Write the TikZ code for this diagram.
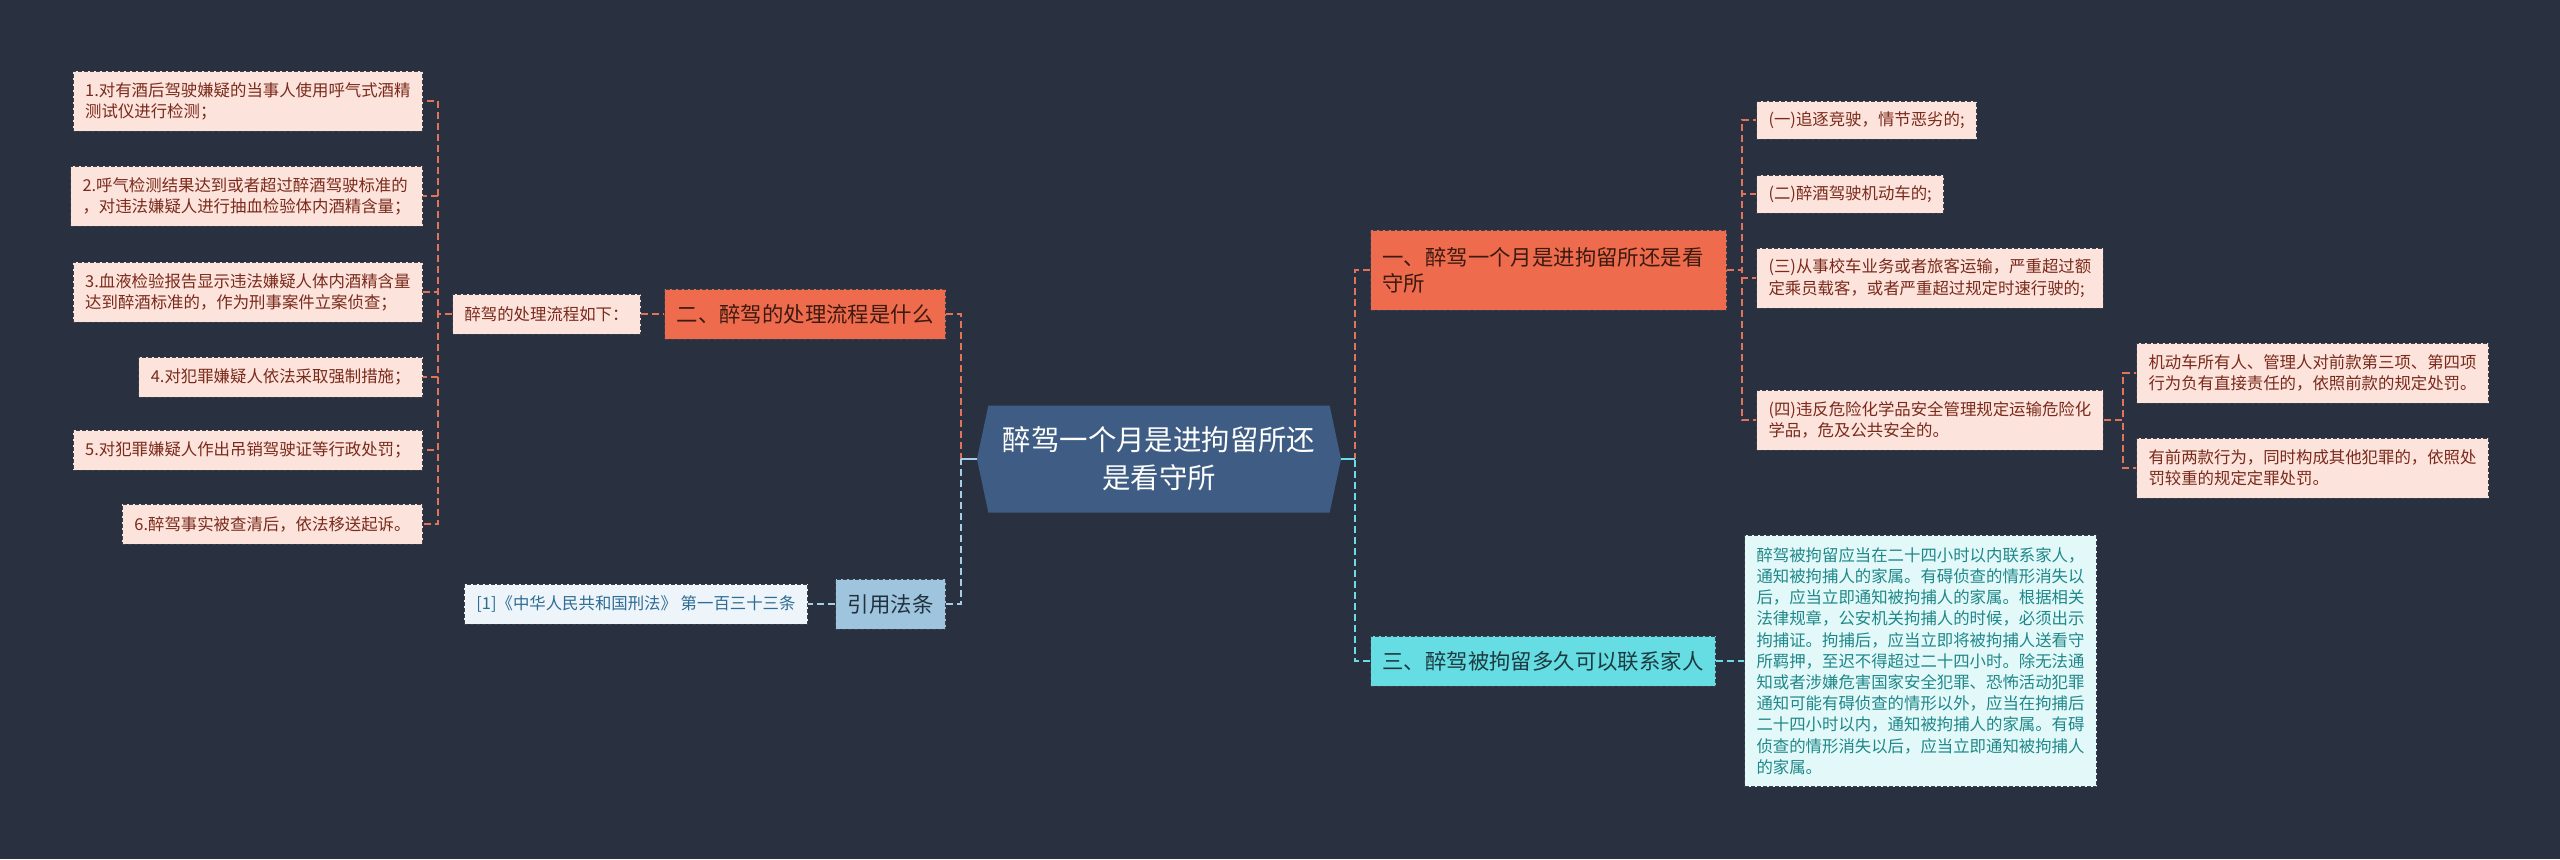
\documentclass[tikz,border=0pt]{standalone}
\usepackage{fontspec}
\setmainfont{Noto Sans CJK SC}
\usetikzlibrary{shapes.symbols}
\definecolor{bg}{HTML}{293141}
\definecolor{redc}{HTML}{E2735B}
\definecolor{leaffill}{HTML}{FCE3DB}
\definecolor{leaftext}{HTML}{7A2A1C}
\definecolor{orangefill}{HTML}{EE6C4D}
\definecolor{titletext}{HTML}{3D1A10}
\definecolor{centerfill}{HTML}{3F5D84}
\definecolor{reffill}{HTML}{9EC5DD}
\definecolor{reftext}{HTML}{22313F}
\definecolor{refitemfill}{HTML}{EDF5FA}
\definecolor{refitemtext}{HTML}{2F6C93}
\definecolor{bluec}{HTML}{A8CDE6}
\definecolor{cyanfill}{HTML}{66DCE3}
\definecolor{cyantext}{HTML}{1D3A40}
\definecolor{cyanc}{HTML}{6CDDE6}
\definecolor{bigfill}{HTML}{E3F9F9}
\definecolor{bigtext}{HTML}{1F8789}
\definecolor{bordc}{HTML}{3A3F4A}
\tikzset{
  conn/.style={line width=1pt, dash pattern=on 3.5pt off 2pt},
  stub/.style={line width=1pt},
  box/.style={rectangle, draw=bordc, line width=0.5pt, dash pattern=on 2pt off 1pt,
    inner xsep=6pt, inner ysep=0pt, align=left},
  leaf/.style={box, fill=leaffill, text=leaftext, font=\fontsize{8.2pt}{10.6pt}\selectfont},
  leafone/.style={leaf, minimum height=20pt},
  leaftwo/.style={leaf, minimum height=30pt},
  title/.style={box, fill=orangefill, text=titletext, font=\fontsize{10.7pt}{13pt}\selectfont, minimum height=25pt},
  refnode/.style={box, fill=reffill, text=reftext, font=\fontsize{10.7pt}{13pt}\selectfont, minimum height=25pt},
  refitem/.style={box, fill=refitemfill, text=refitemtext, font=\fontsize{8.2pt}{10.6pt}\selectfont, minimum height=20pt},
  cyantitle/.style={box, fill=cyanfill, text=cyantext, font=\fontsize{10.7pt}{13pt}\selectfont, minimum height=25pt},
  bigbox/.style={box, fill=bigfill, text=bigtext, inner ysep=6pt, font=\fontsize{8.2pt}{10.6pt}\selectfont},
  centernode/.style={signal, signal to=east and west, signal pointer angle=156, fill=centerfill,
    text=white, align=center, minimum width=182pt, minimum height=53.5pt, inner sep=0pt,
    font=\fontsize{14.2pt}{19pt}\selectfont}
}
\begin{document}
\begin{tikzpicture}[x=0.5pt,y=-0.5pt]
\useasboundingbox[fill=bg] (0,0) rectangle (2560,859);

% center
\node[centernode] (c) at (1159,459) {醉驾一个月是进拘留所还\\是看守所};

% left branch
\node[title, anchor=east] (two) at (946,314) {二、醉驾的处理流程是什么};
\node[leafone, anchor=west] (flow) at (452,314) {醉驾的处理流程如下：};
\node[leaftwo, anchor=east] (l1) at (423,101) {1.对有酒后驾驶嫌疑的当事人使用呼气式酒精\\测试仪进行检测；};
\node[leaftwo, anchor=east] (l2) at (423,196) {2.呼气检测结果达到或者超过醉酒驾驶标准的\\，对违法嫌疑人进行抽血检验体内酒精含量；};
\node[leaftwo, anchor=east] (l3) at (423,292) {3.血液检验报告显示违法嫌疑人体内酒精含量\\达到醉酒标准的，作为刑事案件立案侦查；};
\node[leafone, anchor=east] (l4) at (423,377) {4.对犯罪嫌疑人依法采取强制措施；};
\node[leafone, anchor=east] (l5) at (423,450) {5.对犯罪嫌疑人作出吊销驾驶证等行政处罚；};
\node[leafone, anchor=east] (l6) at (423,524) {6.醉驾事实被查清后，依法移送起诉。};

\node[refnode, anchor=east] (ref) at (946,604) {引用法条};
\node[refitem, anchor=east] (refi) at (808,604) {[1]《中华人民共和国刑法》 第一百三十三条};

% right branch
\node[title, anchor=west, minimum height=40pt, text width=166pt] (one) at (1370,270) {一、醉驾一个月是进拘留所还是看\\守所};
\node[leafone, anchor=west, minimum height=19pt] (i1) at (1756,120) {(一)追逐竞驶，情节恶劣的;};
\node[leafone, anchor=west, minimum height=19pt] (i2) at (1756,194) {(二)醉酒驾驶机动车的;};
\node[leaftwo, anchor=west] (i3) at (1756,278) {(三)从事校车业务或者旅客运输，严重超过额\\定乘员载客，或者严重超过规定时速行驶的;};
\node[leaftwo, anchor=west] (i4) at (1756,420) {(四)违反危险化学品安全管理规定运输危险化\\学品，危及公共安全的。};
\node[leaftwo, anchor=west] (s1) at (2136,373) {机动车所有人、管理人对前款第三项、第四项\\行为负有直接责任的，依照前款的规定处罚。};
\node[leaftwo, anchor=west] (s2) at (2136,468) {有前两款行为，同时构成其他犯罪的，依照处\\罚较重的规定定罪处罚。};

\node[cyantitle, anchor=west] (three) at (1370,661) {三、醉驾被拘留多久可以联系家人};
\node[bigbox, anchor=west] (big) at (1744,661) {醉驾被拘留应当在二十四小时以内联系家人，\\通知被拘捕人的家属。有碍侦查的情形消失以\\后，应当立即通知被拘捕人的家属。根据相关\\法律规章，公安机关拘捕人的时候，必须出示\\拘捕证。拘捕后，应当立即将被拘捕人送看守\\所羁押，至迟不得超过二十四小时。除无法通\\知或者涉嫌危害国家安全犯罪、恐怖活动犯罪\\通知可能有碍侦查的情形以外，应当在拘捕后\\二十四小时以内，通知被拘捕人的家属。有碍\\侦查的情形消失以后，应当立即通知被拘捕人\\的家属。};

% junctions
\coordinate (jL) at (961,459);
\coordinate (jR) at (1355,459);
\coordinate (jF) at (438,314);
\coordinate (j1) at (1742,270);
\coordinate (j4) at (2123,420);

% connectors left
\draw[conn, redc] (two.east) -| (jL);
\draw[conn, bluec] (ref.east) -| (jL);
\draw[stub, bluec] (jL) -- (c.west);
\draw[conn, redc] (flow.east) -- (two.west);
\draw[conn, bluec] (ref.west) -- (refi.east);
\foreach \n in {l1,l2,l3,l4,l5,l6}{
  \draw[conn, redc] (flow.west) -- (jF) |- (\n.east);
}

% connectors right
\draw[conn, redc] (one.west) -| (jR);
\draw[conn, cyanc] (three.west) -| (jR);
\draw[stub, cyanc] (c.east) -- (jR);
\draw[conn, cyanc] (three.east) -- (big.west);
\foreach \n in {i1,i2,i3,i4}{
  \draw[conn, redc] (one.east) -- (j1) |- (\n.west);
}
\foreach \n in {s1,s2}{
  \draw[conn, redc] (i4.east) -- (j4) |- (\n.west);
}
\end{tikzpicture}
\end{document}
